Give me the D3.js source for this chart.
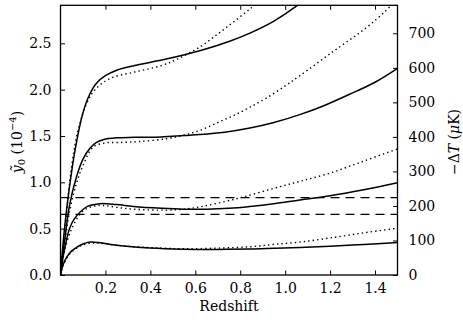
<!DOCTYPE html>
<html><head><meta charset="utf-8">
<script src="https://cdn.jsdelivr.net/npm/d3@7"></script>
<style>
body{margin:0;background:#fff;}
text{font-family:"DejaVu Serif",serif;fill:#000;}
</style></head>
<body><svg id="c" width="463" height="324"></svg>
<script>
// ---- data (redshift, y0 in 1e-4) ----
const xTicks = [0.2,0.4,0.6,0.8,1.0,1.2,1.4];
const yTicks = [0.0,0.5,1.0,1.5,2.0,2.5];
const rTicks = [0,100,200,300,400,500,600,700];
const yToMicroK = 268.4;

const solid1 = [[0,0],[0.01,0.3],[0.02,0.55],[0.04,0.95],[0.065,1.35],[0.1,1.75],[0.13,1.95],[0.16,2.07],[0.2,2.15],[0.25,2.21],[0.33,2.26],[0.47,2.33],[0.62,2.42],[0.75,2.52],[0.843,2.61],[0.95,2.74],[1.05,2.90],[1.1,3.0]];
const dotted1 = [[0,0],[0.01,0.27],[0.02,0.5],[0.05,1.18],[0.08,1.58],[0.12,1.87],[0.154,2.0],[0.22,2.12],[0.33,2.19],[0.45,2.26],[0.52,2.33],[0.62,2.46],[0.7,2.6],[0.77,2.73],[0.843,2.87],[0.9,2.98]];
const solid2 = [[0,0],[0.01,0.22],[0.02,0.4],[0.04,0.75],[0.07,1.05],[0.1,1.25],[0.132,1.37],[0.16,1.43],[0.19,1.46],[0.25,1.48],[0.33,1.485],[0.45,1.49],[0.55,1.505],[0.62,1.515],[0.73,1.54],[0.843,1.585],[0.95,1.645],[1.065,1.73],[1.18,1.835],[1.287,1.95],[1.4,2.08],[1.5,2.23]];
const dotted2 = [[0,0],[0.01,0.2],[0.02,0.37],[0.04,0.68],[0.07,0.98],[0.1,1.18],[0.145,1.38],[0.2,1.425],[0.27,1.43],[0.35,1.44],[0.47,1.47],[0.55,1.51],[0.62,1.56],[0.7,1.645],[0.77,1.72],[0.843,1.81],[0.917,1.91],[1.0,2.04],[1.065,2.15],[1.213,2.41],[1.362,2.67],[1.443,2.84],[1.48,2.93]];
const solid3 = [[0,0],[0.01,0.17],[0.02,0.3],[0.04,0.5],[0.06,0.6],[0.088,0.68],[0.12,0.74],[0.176,0.77],[0.25,0.76],[0.325,0.74],[0.45,0.72],[0.547,0.71],[0.65,0.71],[0.75,0.72],[0.843,0.74],[0.95,0.77],[1.065,0.81],[1.2,0.855],[1.35,0.92],[1.5,0.995]];
const dotted3 = [[0,0],[0.01,0.16],[0.02,0.28],[0.05,0.5],[0.1,0.69],[0.15,0.745],[0.19,0.75],[0.25,0.73],[0.325,0.71],[0.47,0.70],[0.55,0.71],[0.62,0.735],[0.7,0.775],[0.81,0.84],[0.95,0.935],[1.065,1.01],[1.2,1.1],[1.35,1.23],[1.5,1.36]];
const solid4 = [[0,0],[0.01,0.1],[0.03,0.2],[0.05,0.26],[0.073,0.3],[0.1,0.335],[0.132,0.355],[0.17,0.35],[0.25,0.32],[0.4,0.29],[0.55,0.278],[0.7,0.276],[0.843,0.28],[0.95,0.288],[1.065,0.297],[1.2,0.31],[1.35,0.33],[1.5,0.35]];
const dotted4 = [[0,0],[0.01,0.09],[0.03,0.19],[0.05,0.25],[0.1,0.325],[0.16,0.345],[0.25,0.32],[0.325,0.305],[0.45,0.29],[0.55,0.283],[0.7,0.29],[0.843,0.305],[0.95,0.33],[1.065,0.355],[1.2,0.40],[1.35,0.455],[1.5,0.505]];
const dashedLevels = [0.834, 0.655];

// ---- layout ----
const svg = d3.select("#c");
const L = 60.5, R = 397.5, T = 5.3, B = 275;
const yMax = 2.91;
const x = d3.scaleLinear().domain([0,1.5]).range([L,R]);
const y = d3.scaleLinear().domain([0,yMax]).range([B,T]);
const yR = d3.scaleLinear().domain([0,yMax*yToMicroK]).range([B,T]);

svg.append("defs").append("clipPath").attr("id","clip")
  .append("rect").attr("x",L).attr("y",T).attr("width",R-L).attr("height",B-T);

const plot = svg.append("g").attr("clip-path","url(#clip)");
const line = d3.line().x(d=>x(d[0])).y(d=>y(d[1])).curve(d3.curveCatmullRom.alpha(0.5));
const straight = d3.line().x(d=>x(d[0])).y(d=>y(d[1]));

[solid1,solid2,solid3,solid4].forEach(s=>{
  plot.append("path").attr("d",line(s)).attr("fill","none").attr("stroke","#000").attr("stroke-width",1.5);
});
[dotted1,dotted2,dotted3,dotted4].forEach(s=>{
  plot.append("path").attr("d",line(s)).attr("fill","none").attr("stroke","#000").attr("stroke-width",1.4).attr("stroke-dasharray","1.4,3.1");
});
dashedLevels.forEach(v=>{
  plot.append("path").attr("d",straight([[0,v],[1.5,v]])).attr("fill","none").attr("stroke","#000").attr("stroke-width",1.3).attr("stroke-dasharray","9,6");
});

// ---- axes (ticks inward) ----
const tl = 4.5;
const gB = svg.append("g").attr("transform",`translate(0,${B})`)
  .call(d3.axisBottom(x).tickValues(xTicks).tickFormat(d3.format(".1f")).tickSizeInner(-tl).tickSizeOuter(0).tickPadding(8));
const gT = svg.append("g").attr("transform",`translate(0,${T})`)
  .call(d3.axisTop(x).tickValues(xTicks).tickFormat("").tickSizeInner(-tl).tickSizeOuter(0));
const gL = svg.append("g").attr("transform",`translate(${L},0)`)
  .call(d3.axisLeft(y).tickValues(yTicks).tickFormat(d3.format(".1f")).tickSizeInner(-tl).tickSizeOuter(0).tickPadding(9));
const gR = svg.append("g").attr("transform",`translate(${R},0)`)
  .call(d3.axisRight(yR).tickValues(rTicks).tickFormat(d3.format("d")).tickSizeInner(-tl).tickSizeOuter(0).tickPadding(11));
[gB,gT,gL,gR].forEach(g=>{
  g.select(".domain").remove();
  g.selectAll(".tick line").attr("stroke","#000").attr("stroke-width",1);
  g.selectAll("text").attr("font-family","DejaVu Serif").attr("font-size",14).attr("fill","#000");
});
svg.append("rect").attr("x",L).attr("y",T).attr("width",R-L).attr("height",B-T)
  .attr("fill","none").attr("stroke","#000").attr("stroke-width",1.3);

// ---- labels ----
svg.append("text").attr("x",(L+R)/2).attr("y",311).attr("text-anchor","middle")
  .attr("font-size",14).text("Redshift");

const yl = svg.append("text").attr("transform","translate(22,142) rotate(-90)")
  .attr("text-anchor","middle").attr("font-size",14);
yl.append("tspan").attr("font-style","italic").text("ỹ");
yl.append("tspan").attr("font-size",10).attr("dy",3).text("0");
yl.append("tspan").attr("dy",-3).text(" (10");
yl.append("tspan").attr("font-size",10).attr("dy",-6).text("−4");
yl.append("tspan").attr("dy",6).text(")");

const rl = svg.append("text").attr("transform","translate(459,142) rotate(-90)")
  .attr("text-anchor","middle").attr("font-size",14);
rl.append("tspan").text("−Δ");
rl.append("tspan").attr("font-style","italic").text("T");
rl.append("tspan").text(" (");
rl.append("tspan").attr("font-style","italic").text("μ");
rl.append("tspan").text("K)");
</script></body></html>
